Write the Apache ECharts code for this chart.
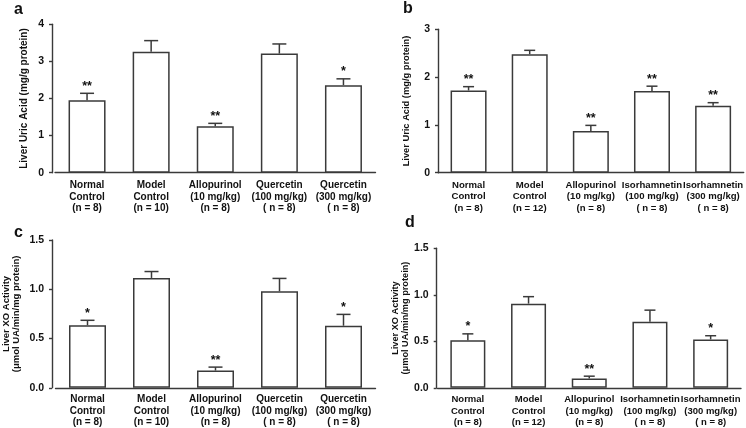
<!DOCTYPE html>
<html>
<head>
<meta charset="utf-8">
<script src="https://cdn.jsdelivr.net/npm/echarts@6/dist/echarts.min.js"></script>
<style>
html,body{margin:0;padding:0;background:#fff;}
#chart{width:746px;height:428px;}
</style>
</head>
<body>
<div id="chart"></div>
<script>
// ---------- data ----------
const catsQuercetin = ['Normal\nControl\n(n = 8)', 'Model\nControl\n(n = 10)', 'Allopurinol\n(10 mg/kg)\n(n = 8)', 'Quercetin\n(100 mg/kg)\n( n = 8)', 'Quercetin\n(300 mg/kg)\n( n = 8)'];
const catsIsorhamnetin = ['Normal\nControl\n(n = 8)', 'Model\nControl\n(n = 12)', 'Allopurinol\n(10 mg/kg)\n(n = 8)', 'Isorhamnetin\n(100 mg/kg)\n( n = 8)', 'Isorhamnetin\n(300 mg/kg)\n( n = 8)'];

const uricA = [1.95, 3.26, 1.25, 3.21, 2.36];
const uricAUpper = [2.14, 3.56, 1.33, 3.47, 2.53];
const starsA = ['**', '', '**', '', '*'];

const uricB = [1.72, 2.48, 0.87, 1.71, 1.40];
const uricBUpper = [1.80, 2.56, 0.99, 1.81, 1.465];
const starsB = ['**', '', '**', '**', '**'];

const xoC = [0.635, 1.115, 0.175, 0.98, 0.63];
const xoCUpper = [0.685, 1.18, 0.21, 1.11, 0.745];
const starsC = ['*', '', '**', '', '*'];

const xoD = [0.51, 0.905, 0.10, 0.71, 0.52];
const xoDUpper = [0.58, 0.98, 0.125, 0.835, 0.56];
const starsD = ['*', '', '**', '', '*'];

const yTicksUric = { a: { max: 4, interval: 1 }, b: { max: 3, interval: 1 } };
const yTicksXO = { max: 1.5, interval: 0.5 };

// ---------- styling ----------
const FONT = "'Liberation Sans', Arial, sans-serif";
const LINE = '#3a3a3a';
const TEXT = '#111';

const panels = [
  { cats: catsQuercetin, vals: uricA, upper: uricAUpper, stars: starsA,
    grid: { left: 55, top: 24.3, width: 320.5, height: 148.4 }, yOffset: 3,
    max: yTicksUric.a.max, interval: yTicksUric.a.interval, dec: 0,
    name: 'Liver Uric Acid (mg/g protein)', nameGap: 23, nameSize: 10,
    barWidth: 37, cap: 14, labelMargin: 7, xFont: 10 },
  { cats: catsIsorhamnetin, vals: uricB, upper: uricBUpper, stars: starsB,
    grid: { left: 438, top: 29.3, width: 308, height: 143.4 }, yOffset: 0,
    max: yTicksUric.b.max, interval: yTicksUric.b.interval, dec: 0,
    name: 'Liver Uric Acid (mg/g protein)', nameGap: 27, nameSize: 9.3,
    barWidth: 36, cap: 11, labelMargin: 7, xFont: 9.6 },
  { cats: catsQuercetin, vals: xoC, upper: xoCUpper, stars: starsC,
    grid: { left: 54.5, top: 240, width: 321, height: 148.3 }, yOffset: 3.5,
    max: yTicksXO.max, interval: yTicksXO.interval, dec: 1,
    name: 'Liver XO Activity\n(μmol UA/min/mg protein)', nameGap: 31, nameSize: 9.5,
    barWidth: 37, cap: 14, labelMargin: 6, xFont: 10 },
  { cats: catsIsorhamnetin, vals: xoD, upper: xoDUpper, stars: starsD,
    grid: { left: 437.5, top: 248.3, width: 303.5, height: 140 }, yOffset: 0.8,
    max: yTicksXO.max, interval: yTicksXO.interval, dec: 1,
    name: 'Liver XO Activity\n(μmol UA/min/mg protein)', nameGap: 25, nameSize: 9.2,
    barWidth: 35, cap: 11, labelMargin: 6, xFont: 9.5 }
];

const grids = [], xAxes = [], yAxes = [], series = [];
panels.forEach((p, k) => {
  grids.push(Object.assign({ containLabel: false }, p.grid));
  xAxes.push({
    type: 'category', gridIndex: k, data: p.cats,
    axisLine: { lineStyle: { color: LINE, width: 1.4 } },
    axisTick: { alignWithLabel: true, length: 3, lineStyle: { color: LINE, width: 1.4 } },
    axisLabel: { interval: 0, margin: p.labelMargin, color: TEXT, fontFamily: FONT,
                 fontWeight: 'bold', fontSize: p.xFont, lineHeight: 11.4 }
  });
  yAxes.push({
    type: 'value', gridIndex: k, min: 0, max: p.max, interval: p.interval,
    offset: p.yOffset,
    name: p.name, nameLocation: 'middle', nameGap: p.nameGap, nameRotate: 90,
    nameTextStyle: { color: TEXT, fontFamily: FONT, fontWeight: 'bold', fontSize: p.nameSize, lineHeight: p.nameSize + 0.5 },
    axisLine: { show: true, lineStyle: { color: LINE, width: 1.4 } },
    axisTick: { show: true, length: 3, lineStyle: { color: LINE, width: 1.4 } },
    splitLine: { show: false },
    axisLabel: { margin: 8, color: TEXT, fontFamily: FONT, fontWeight: 'bold', fontSize: 10.5,
                 formatter: v => v.toFixed(p.dec) }
  });
  series.push({
    type: 'bar', xAxisIndex: k, yAxisIndex: k, data: p.vals, barWidth: p.barWidth,
    itemStyle: { color: '#fff', borderColor: LINE, borderWidth: 1.5 },
    silent: true, animation: false, z: 2
  });
  series.push({
    type: 'custom', xAxisIndex: k, yAxisIndex: k, animation: false, silent: true, z: 3,
    data: p.vals.map((v, i) => [i, v, p.upper[i]]),
    renderItem: (params, api) => {
      const i = api.value(0);
      const base = api.coord([i, api.value(1)]);
      const top = api.coord([i, api.value(2)]);
      const st = { stroke: LINE, lineWidth: 1.5 };
      const children = [
        { type: 'line', shape: { x1: top[0], y1: base[1], x2: top[0], y2: top[1] }, style: st },
        { type: 'line', shape: { x1: top[0] - p.cap / 2, y1: top[1], x2: top[0] + p.cap / 2, y2: top[1] }, style: st }
      ];
      const s = p.stars[i];
      if (s) {
        children.push({ type: 'text', x: top[0], y: top[1] - 7,
          style: { text: s, textAlign: 'center', textVerticalAlign: 'middle',
                   font: 'bold 12.5px ' + FONT, fill: TEXT } });
      }
      return { type: 'group', children };
    }
  });
});

const panelLetters = [
  { text: 'a', x: 14, y: 11 },
  { text: 'b', x: 403, y: 10 },
  { text: 'c', x: 14, y: 234 },
  { text: 'd', x: 405, y: 224 }
];

const chart = echarts.init(document.getElementById('chart'), null, { renderer: 'canvas' });
chart.setOption({
  backgroundColor: '#fff',
  animation: false,
  grid: grids, xAxis: xAxes, yAxis: yAxes, series,
  graphic: panelLetters.map(l => ({
    type: 'text', left: l.x, top: l.y - 9,
    style: { text: l.text, font: 'bold 16px ' + FONT, fill: TEXT }
  }))
});
</script>
</body>
</html>
